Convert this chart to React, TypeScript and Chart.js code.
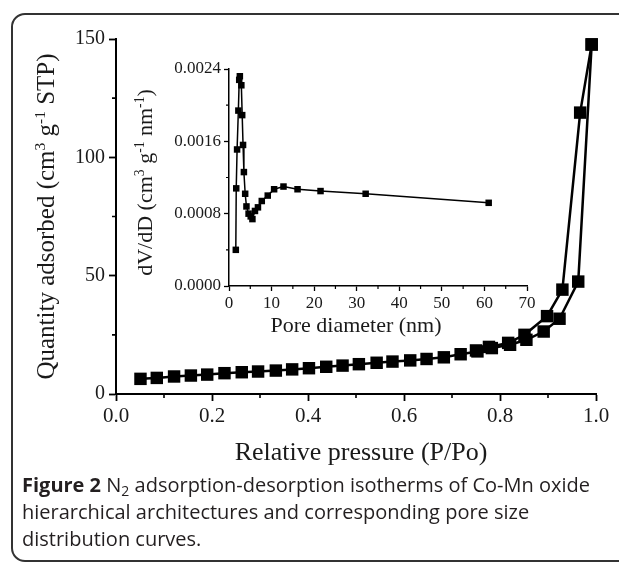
import React, { useEffect, useRef } from "react";
import { Chart, registerables } from "chart.js";

Chart.register(...registerables);

// ---- Main isotherm data (P/Po, cm3 g-1 STP) ----
const adsorptionPressure = [0.051, 0.085, 0.121, 0.156, 0.19, 0.226, 0.262, 0.296, 0.333, 0.367, 0.402, 0.438, 0.472, 0.506, 0.543, 0.576, 0.613, 0.647, 0.683, 0.718, 0.753, 0.783, 0.821, 0.855, 0.891, 0.924, 0.963, 0.991];
const adsorptionQuantity = [6.4, 6.8, 7.4, 7.8, 8.2, 8.8, 9.2, 9.5, 9.9, 10.4, 10.9, 11.5, 12.0, 12.6, 13.2, 13.7, 14.2, 14.8, 15.5, 16.8, 18.0, 19.4, 20.8, 22.9, 26.4, 31.8, 47.5, 147.7];
const desorptionPressure = [0.991, 0.967, 0.93, 0.898, 0.851, 0.817, 0.777, 0.75];
const desorptionQuantity = [147.7, 118.9, 44.1, 32.9, 25.0, 21.6, 19.9, 18.4];

// ---- Inset pore size distribution (nm, cm3 g-1 nm-1) ----
const poreDiameter = [1.6, 1.7, 1.9, 2.2, 2.4, 2.55, 2.9, 3.1, 3.3, 3.5, 3.8, 4.1, 4.6, 5.1, 5.5, 6.1, 6.8, 7.7, 9.1, 10.6, 12.8, 16.1, 21.5, 32.1, 61];
const poreVolume = [0.0004, 0.00108, 0.00151, 0.00194, 0.00228, 0.00232, 0.00222, 0.00189, 0.00156, 0.00126, 0.00102, 0.00088, 0.0008, 0.00077, 0.00074, 0.00083, 0.00087, 0.00094, 0.001, 0.00107, 0.0011, 0.00107, 0.00105, 0.00102, 0.00092];

// ---- Axis ticks ----
const mainXMinor = [0.1, 0.3, 0.5, 0.7, 0.9];
const mainYMinor = [25, 75, 125];
const insetXMinor = [5, 15, 25, 35, 45, 55, 65];
const insetYMinor = [0.0004, 0.0012, 0.002];

const mainXTitle = [{ t: "Relative pressure (P/Po)" }];
const insetXTitle = [{ t: "Pore diameter (nm)" }];
const mainYTitle = [
  { t: "Quantity adsorbed (cm" }, { t: "3", sup: true }, { t: " g" }, { t: "-1", sup: true }, { t: " STP)" },
];
const insetYTitle = [
  { t: "dV/dD (cm" }, { t: "3", sup: true }, { t: " g" }, { t: "-1", sup: true }, { t: " nm" }, { t: "-1", sup: true }, { t: ")" },
];

const SERIF = '"Liberation Serif", "Times New Roman", serif';
const INK = "#1a1a1a";

type Seg = { t: string; sup?: boolean };

// Draws an axis title (with superscripts) next to the chart area.
// vertical: rotated title, centred on chart area, dx from chartArea.left
// horizontal: centred on chart area + dx, dy below chartArea.bottom
function richTitle(id: string, segs: Seg[], vertical: boolean, dx: number, dy: number, size: number) {
  return {
    id,
    afterDraw(chart: any) {
      const { ctx, chartArea } = chart;
      const supSize = size * 0.62;
      const base = `${size}px ${SERIF}`;
      const sup = `${supSize}px ${SERIF}`;
      ctx.save();
      let total = 0;
      for (const s of segs) {
        ctx.font = s.sup ? sup : base;
        total += ctx.measureText(s.t).width;
      }
      let cx: number, cy: number;
      if (vertical) {
        cx = chartArea.left + dx;
        cy = (chartArea.top + chartArea.bottom) / 2 + dy;
      } else {
        cx = (chartArea.left + chartArea.right) / 2 + dx;
        cy = chartArea.bottom + dy;
      }
      ctx.translate(cx, cy);
      if (vertical) ctx.rotate(-Math.PI / 2);
      ctx.fillStyle = INK;
      ctx.textBaseline = "alphabetic";
      ctx.textAlign = "left";
      let x = -total / 2;
      const baseY = size * 0.33;
      for (const s of segs) {
        ctx.font = s.sup ? sup : base;
        ctx.fillText(s.t, x, s.sup ? baseY - size * 0.38 : baseY);
        x += ctx.measureText(s.t).width;
      }
      ctx.restore();
    },
  };
}

function minorTicks(id: string, xVals: number[], yVals: number[], len: number, width: number) {
  return {
    id,
    afterDraw(chart: any) {
      const { ctx, chartArea, scales } = chart;
      ctx.save();
      ctx.strokeStyle = "#000";
      ctx.lineWidth = width;
      ctx.beginPath();
      for (const v of xVals) {
        const px = scales.x.getPixelForValue(v);
        ctx.moveTo(px, chartArea.bottom);
        ctx.lineTo(px, chartArea.bottom + len);
      }
      for (const v of yVals) {
        const py = scales.y.getPixelForValue(v);
        ctx.moveTo(chartArea.left, py);
        ctx.lineTo(chartArea.left - len, py);
      }
      ctx.stroke();
      ctx.restore();
    },
  };
}

function series(xs: number[], ys: number[], radius: number, width: number) {
  return {
    data: xs.map((x, i) => ({ x, y: ys[i] })),
    borderColor: "#000",
    backgroundColor: "#000",
    pointBackgroundColor: "#000",
    borderWidth: width,
    pointStyle: "rect",
    pointRadius: radius,
    pointBorderWidth: 0,
    tension: 0,
    clip: false,
  };
}

function mainConfig(): any {
  return {
    type: "line",
    data: {
      datasets: [
        series(adsorptionPressure, adsorptionQuantity, 8.8, 2.5),
        series(desorptionPressure, desorptionQuantity, 8.8, 2.5),
      ],
    },
    options: {
      animation: false,
      responsive: false,
      maintainAspectRatio: false,
      layout: { padding: { left: 0, top: 39, right: 23, bottom: 0 } },
      plugins: { legend: { display: false }, tooltip: { enabled: false } },
      scales: {
        x: {
          type: "linear",
          min: 0,
          max: 1,
          afterFit: (s: any) => { s.height = 86; },
          ticks: {
            stepSize: 0.2,
            autoSkip: false,
            maxRotation: 0,
            padding: 3,
            color: INK,
            font: { family: SERIF, size: 21 },
            callback: (v: any) => Number(v).toFixed(1),
          },
          grid: { drawOnChartArea: false, drawTicks: true, tickLength: 7, tickWidth: 1.8, tickColor: "#000" },
          border: { display: true, color: "#000", width: 2 },
        },
        y: {
          type: "linear",
          min: 0,
          max: 150,
          afterFit: (s: any) => { s.width = 116; },
          ticks: {
            stepSize: 50,
            padding: 4,
            color: INK,
            font: { family: SERIF, size: 20 },
          },
          grid: { drawOnChartArea: false, drawTicks: true, tickLength: 7, tickWidth: 1.8, tickColor: "#000" },
          border: { display: true, color: "#000", width: 2 },
        },
      },
    },
    plugins: [
      minorTicks("mainMinor", mainXMinor, mainYMinor, 4, 1.6),
      richTitle("mainYTitle", mainYTitle, true, -70, 0, 25),
      richTitle("mainXTitle", mainXTitle, false, 5, 57, 26),
    ],
  };
}

function insetConfig(): any {
  return {
    type: "line",
    data: {
      datasets: [series(poreDiameter, poreVolume, 4.6, 1.5)],
    },
    options: {
      animation: false,
      responsive: false,
      maintainAspectRatio: false,
      layout: { padding: { left: 0, top: 19, right: 23, bottom: 0 } },
      plugins: { legend: { display: false }, tooltip: { enabled: false } },
      scales: {
        x: {
          type: "linear",
          min: 0,
          max: 70,
          afterFit: (s: any) => { s.height = 64; },
          ticks: {
            stepSize: 10,
            autoSkip: false,
            maxRotation: 0,
            padding: 2,
            color: INK,
            font: { family: SERIF, size: 17 },
          },
          grid: { drawOnChartArea: false, drawTicks: true, tickLength: 5, tickWidth: 1.3, tickColor: "#000" },
          border: { display: true, color: "#000", width: 1.5 },
        },
        y: {
          type: "linear",
          min: 0,
          max: 0.0024,
          afterFit: (s: any) => { s.width = 109; },
          ticks: {
            stepSize: 0.0008,
            padding: 3,
            color: INK,
            font: { family: SERIF, size: 17 },
            callback: (v: any) => Number(v).toFixed(4),
          },
          grid: { drawOnChartArea: false, drawTicks: true, tickLength: 5, tickWidth: 1.3, tickColor: "#000" },
          border: { display: true, color: "#000", width: 1.5 },
        },
      },
    },
    plugins: [
      minorTicks("insetMinor", insetXMinor, insetYMinor, 3, 1.2),
      richTitle("insetYTitle", insetYTitle, true, -84, 5, 22),
      richTitle("insetXTitle", insetXTitle, false, -22, 39, 22),
    ],
  };
}

export default function App() {
  const mainRef = useRef<HTMLCanvasElement>(null);
  const insetRef = useRef<HTMLCanvasElement>(null);

  useEffect(() => {
    const c1 = new Chart(mainRef.current as HTMLCanvasElement, mainConfig());
    const c2 = new Chart(insetRef.current as HTMLCanvasElement, insetConfig());
    return () => {
      c1.destroy();
      c2.destroy();
    };
  }, []);

  return (
    <div style={{ position: "absolute", left: 0, top: 0, width: 619, height: 562, overflow: "hidden", background: "#fff" }}>
      <div
        style={{
          position: "absolute",
          left: 11,
          top: 13,
          width: 680,
          height: 549,
          border: "2px solid #333",
          borderRadius: 14,
          boxSizing: "border-box",
        }}
      />
      <canvas ref={mainRef} width={619} height={480} style={{ position: "absolute", left: 0, top: 0, width: 619, height: 480 }} />
      <canvas ref={insetRef} width={430} height={300} style={{ position: "absolute", left: 120, top: 50, width: 430, height: 300 }} />
      <div
        style={{
          position: "absolute",
          left: 22,
          top: 471,
          fontFamily: '"Open Sans", "Liberation Sans", sans-serif',
          fontSize: 20,
          lineHeight: "27px",
          color: "#231f20",
          whiteSpace: "nowrap",
        }}
      >
        <b>Figure 2</b> N<sub style={{ fontSize: "0.7em", verticalAlign: "-0.25em", lineHeight: 0 }}>2</sub> adsorption-desorption isotherms of Co-Mn oxide
        <br />
        hierarchical architectures and corresponding pore size
        <br />
        distribution curves.
      </div>
    </div>
  );
}
